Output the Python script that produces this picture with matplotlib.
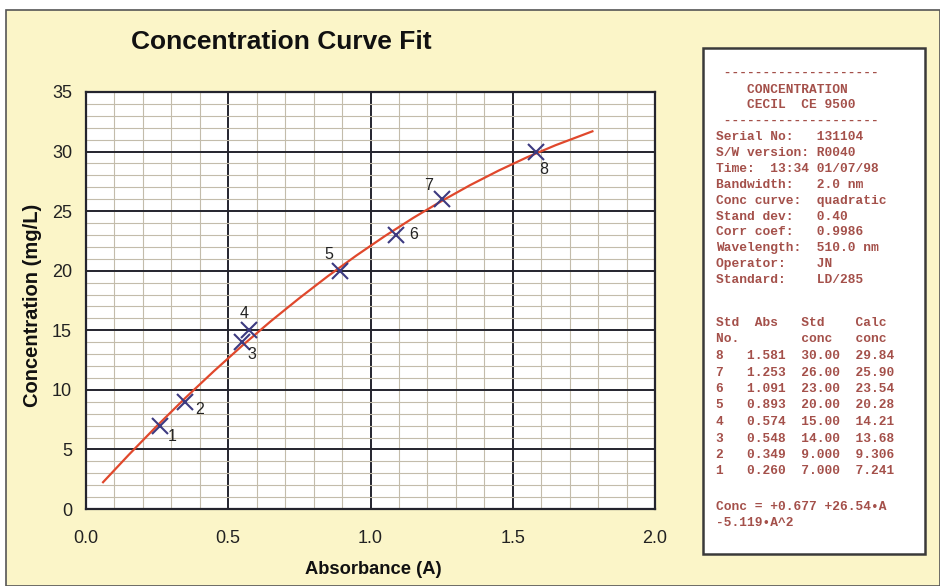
import matplotlib.pyplot as plt
from matplotlib.patches import Rectangle
from matplotlib.ticker import MultipleLocator

# calibration standards
std_no = [1, 2, 3, 4, 5, 6, 7, 8]
absorbance = [0.260, 0.349, 0.548, 0.574, 0.893, 1.091, 1.253, 1.581]
std_conc = [7.0, 9.0, 14.0, 15.0, 20.0, 23.0, 26.0, 30.0]
calc_conc = [7.241, 9.306, 13.68, 14.21, 20.28, 23.54, 25.90, 29.84]

# fitted curve
curve_abs = [0.06, 0.15, 0.25, 0.35, 0.45, 0.55, 0.65, 0.75, 0.85, 0.95,
             1.05, 1.15, 1.25, 1.35, 1.45, 1.55, 1.65, 1.78]
curve_conc = [2.25, 4.54, 6.99, 9.34, 11.58, 13.73, 15.77, 17.70, 19.54, 21.27,
              22.90, 24.43, 25.85, 27.18, 28.40, 29.52, 30.53, 31.70]

header_lines = ["    CONCENTRATION", "    CECIL  CE 9500"]
info_lines = [
    "Serial No:   131104",
    "S/W version: R0040",
    "Time:  13:34 01/07/98",
    "Bandwidth:   2.0 nm",
    "Conc curve:  quadratic",
    "Stand dev:   0.40",
    "Corr coef:   0.9986",
    "Wavelength:  510.0 nm",
    "Operator:    JN",
    "Standard:    LD/285",
]
eq_lines = ["Conc = +0.677 +26.54\u2022A", "-5.119\u2022A^2"]

W, H = 940, 586
fx = lambda px: px / W
fy = lambda py: 1 - py / H

plt.rcParams['font.family'] = ['Liberation Sans', 'DejaVu Sans']
fig = plt.figure(figsize=(9.4, 5.86), dpi=100, facecolor='white')

# yellow card behind everything
fig.patches.append(Rectangle((fx(6), 0), 1 - fx(6), fy(10), transform=fig.transFigure,
                             facecolor='#fbf5c8', edgecolor='#555555', lw=1.2, zorder=-2))

ax = fig.add_axes([fx(86), fy(509), (655 - 86) / W, (509 - 92) / H])
ax.set_facecolor('white')
ax.set_xlim(0, 2.0)
ax.set_ylim(0, 35)
ax.xaxis.set_major_locator(MultipleLocator(0.5))
ax.xaxis.set_minor_locator(MultipleLocator(0.1))
ax.yaxis.set_major_locator(MultipleLocator(5))
ax.yaxis.set_minor_locator(MultipleLocator(1))
ax.xaxis.set_major_formatter(plt.FormatStrFormatter('%.1f'))
ax.grid(which='minor', color='#c3bcab', lw=0.8)
ax.grid(which='major', color='#24242e', lw=1.4)
ax.set_axisbelow(True)
ax.tick_params(which='both', length=0, labelsize=13, colors='#222222')
ax.tick_params(axis='x', pad=15)
ax.tick_params(axis='y', pad=10)
for s in ax.spines.values():
    s.set_color('#24242e')
    s.set_linewidth(1.6)

ax.plot(curve_abs, curve_conc, color='#e0482c', lw=1.6, zorder=3)
ax.plot(absorbance, std_conc, 'x', color='#3c3a80', ms=11, mew=1.5, zorder=4)

label_offsets = [(12, -11), (14, -8), (10, -12), (-5, 17), (-11, 16), (17, 0), (-14, 14), (8, -18)]
for n, a, c, off in zip(std_no, absorbance, std_conc, label_offsets):
    ax.annotate(str(n), (a, c), xytext=off, textcoords='offset pixels',
                ha='center', va='center', fontsize=11.5, color='#222222', zorder=5)

fig.text(fx(281), fy(42), "Concentration Curve Fit", ha='center', va='center',
         fontsize=19, weight='bold', color='#111111')
fig.text(fx(373), fy(570), "Absorbance (A)", ha='center', va='center',
         fontsize=13.2, weight='bold', color='#111111')
fig.text(fx(33), fy(305), "Concentration (mg/L)", ha='center', va='center',
         rotation=90, fontsize=14.5, weight='bold', color='#111111')

# printout panel
fig.patches.append(Rectangle((fx(703), fy(554)), (925 - 703) / W, (554 - 48) / H,
                             transform=fig.transFigure, facecolor='white',
                             edgecolor='#3a3a3a', lw=1.8, zorder=-1))
mono = dict(family=['Liberation Mono', 'DejaVu Sans Mono'], fontsize=9.3, weight='bold',
            color='#a4504a', va='center', ha='left')
x0 = fx(716)
fig.text(x0, fy(73), " " + "-" * 20, **mono)
for i, line in enumerate(header_lines):
    fig.text(x0, fy(90 + 15 * i), line, **mono)
fig.text(x0, fy(121), " " + "-" * 20, **mono)
for i, line in enumerate(info_lines):
    fig.text(x0, fy(137 + 15.9 * i), line, **mono)

table_lines = ["Std  Abs   Std    Calc", "No.        conc   conc"]
for n, a, c, cc in sorted(zip(std_no, absorbance, std_conc, calc_conc), reverse=True):
    table_lines.append(f"{n}   {a:.3f}  {c:#.4g}  {cc:#.4g}")
for i, line in enumerate(table_lines):
    fig.text(x0, fy(323 + 16.5 * i), line, **mono)
for i, line in enumerate(eq_lines):
    fig.text(x0, fy(507 + 16 * i), line, **mono)

fig.savefig('out.png', dpi=100, facecolor=fig.get_facecolor())
